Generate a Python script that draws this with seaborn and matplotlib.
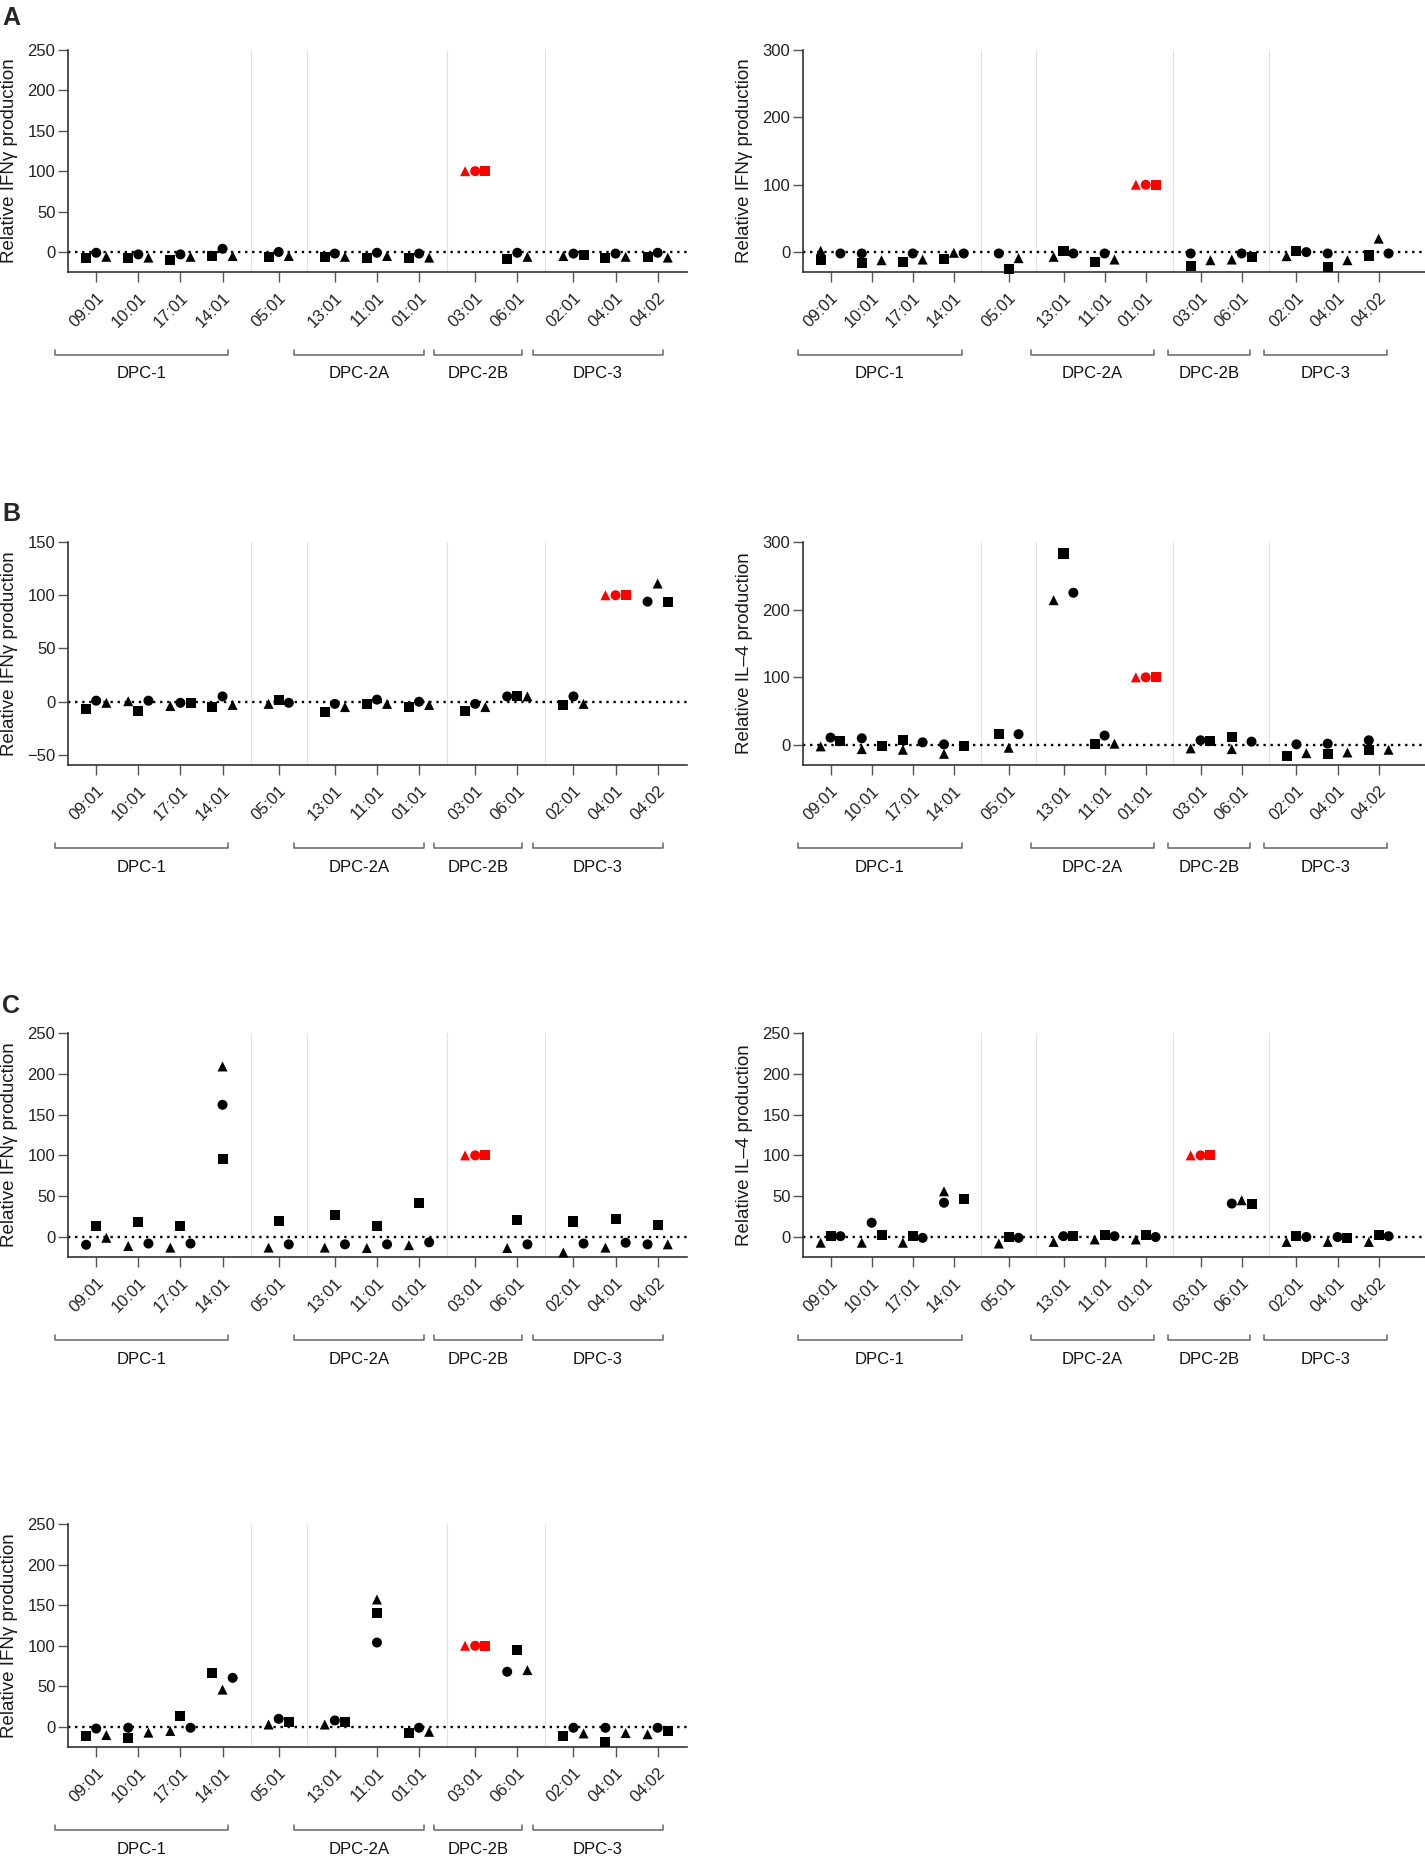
import matplotlib
matplotlib.use("Agg")
import matplotlib.pyplot as plt
import seaborn as sns
import pandas as pd

# HLA-DP alleles on the x axis and the DPC group each belongs to ("" = no group)
alleles = ["09:01", "10:01", "17:01", "14:01", "05:01", "13:01", "11:01",
           "01:01", "03:01", "06:01", "02:01", "04:01", "04:02"]
allele_groups = ["DPC-1", "DPC-1", "DPC-1", "DPC-1", "", "DPC-2A", "DPC-2A",
                 "DPC-2A", "DPC-2B", "DPC-2B", "DPC-3", "DPC-3", "DPC-3"]
donors = ["square", "circle", "triangle"]

# which side each donor's point sits on (square, circle, triangle): L / C / R
# panel A, left
a1_square = [-7, -7, -9.5, -5, -6, -6, -7, -7, 100, -9, -4, -8, -6]
a1_circle = [-1, -3, -3, 4, 0, -2, -1, -2, 100, -1, -2, -2, -1]
a1_triangle = [-6, -7, -6, -5, -5, -6, -5, -7, 100, -6, -5, -6, -7]
a1_spread = ["LCR", "LCR", "LCR", "LCR", "LCR", "LCR", "LCR", "LCR", "RCL",
             "LCR", "RCL", "LCR", "LCR"]

# panel A, right
a2_square = [-12, -16, -15, -10, -25, 1, -14, 100, -20, -7, 1, -22, -5]
a2_circle = [-2, -2, -2, -2, -2, -2, -2, 100, -2, -2, 0, -2, -2]
a2_triangle = [2, -12, -11, -1, -9, -7, -11, 100, -12, -11, -6, -12, 20]
a2_spread = ["LRL", "LLR", "LCR", "LRC", "CLR", "CRL", "LCR", "RCL", "LLR",
             "RCL", "CRL", "LLR", "LRC"]

# panel B, left
b1_square = [-7, -9, -1, -5, 2, -10, -2, -5, -9, 5.5, -3, 100, 94]
b1_circle = [1, 1, -1, 5, -1, -2, 2, 0, -2, 5, 5, 100, 94]
b1_triangle = [-1, 0.5, -4, -3, -2, -5, -2, -3, -5, 5, -2, 100, 111]
b1_spread = ["LCR", "CRL", "RCL", "LCR", "CRL", "LCR", "LCR", "LCR", "LCR",
             "CLR", "LCR", "RCL", "RLC"]

# panel B, right (IL-4)
b2_square = [6, -2, 7, -2, 16, 283, 1, 100, 6, 12, -16, -13, -8]
b2_circle = [11, 10, 4, 1, 16, 225, 14, 100, 7, 5, 1, 2, 7]
b2_triangle = [-2, -6, -7, -13, -4, 214, 2, 100, -5, -6, -12, -11, -7]
b2_spread = ["RCL", "RLL", "LRL", "RLL", "LRC", "CRL", "LCR", "RCL", "RCL",
             "LRL", "LCR", "LLR", "LLR"]

# panel C, left
c1_square = [14, 18, 13.5, 95, 20, 26.5, 13.5, 42, 100, 21, 19, 21.5, 15]
c1_circle = [-9.5, -8, -8, 162, -9, -9, -9, -6.5, 100, -9, -8, -7, -9]
c1_triangle = [-1, -11, -13, 209, -13, -13, -13.5, -10, 100, -13.5, -19, -13, -9]
c1_spread = ["CLR", "CRL", "CRL", "CCC", "CRL", "CRL", "CRL", "CRL", "RCL",
             "CRL", "CRL", "CRL", "CLR"]

# panel C, right (IL-4)
c2_square = [1, 2, 1, 46.5, 0, 1, 3, 3, 100, 41, 1, -1, 2]
c2_circle = [1, 17.5, -1, 42, -1, 1, 1, 0, 100, 41, 0, 0, 1]
c2_triangle = [-7, -7, -7, 56, -8, -6, -3, -3, 100, 45, -6, -6, -6]
c2_spread = ["CRL", "RCL", "CRL", "RLL", "CRL", "RCL", "CRL", "CRL", "RCL",
             "RLC", "CRL", "RCL", "CRL"]

# bottom panel
d_square = [-11.5, -13.5, 13.5, 66, 6, 6, 140, -7.5, 100, 95, -11, -18, -5]
d_circle = [-2, -1, -1, 60.5, 10, 8, 104, -1, 100, 68, -1, -1, -1]
d_triangle = [-10, -7, -5, 46, 3, 3, 157, -6, 100, 70, -8, -7.5, -9]
d_spread = ["LCR", "LLR", "CRL", "LRC", "RCL", "RCL", "CCC", "LCR", "RCL",
            "CLR", "LCR", "LLR", "RCL"]

IFN_LABEL = "Relative IFNγ production"
IL4_LABEL = "Relative IL–4 production"

FIG_W, FIG_H = 1425, 1860
SLOT_SHIFT = {"L": -0.24, "C": 0.0, "R": 0.24}


def allele_positions():
    # one unit per allele, an extra third of a unit between groups
    pos, gap = [], 0
    for i, g in enumerate(allele_groups):
        if i > 0 and g != allele_groups[i - 1]:
            gap += 1
        pos.append(i + gap / 3)
    return pos


def panel_frame(square, circle, triangle, spread, ref):
    base = allele_positions()
    rows = []
    for i, allele in enumerate(alleles):
        for k, (donor, vals) in enumerate(zip(donors, (square, circle, triangle))):
            rows.append({"allele": allele, "donor": donor, "value": vals[i],
                         "x": base[i] + SLOT_SHIFT[spread[i][k]],
                         "ref": allele == ref})
    return pd.DataFrame(rows)


def draw_panel(fig, rect, xmax, bracket_pad, df, ylabel, ylim, yticks):
    ax = fig.add_axes(rect)
    pos = allele_positions()

    # light separators between allele groups
    for i in range(1, len(alleles)):
        if allele_groups[i] != allele_groups[i - 1]:
            ax.axvline((pos[i] + pos[i - 1]) / 2, color="#e2e2e2", lw=0.8, zorder=0)

    ax.axhline(0, color="black", lw=1.7, ls=(0, (1, 2)), zorder=1)

    sns.scatterplot(data=df, x="x", y="value", hue="ref",
                    palette={False: "black", True: "#ff0000"},
                    style="donor",
                    markers={"square": "s", "circle": "o", "triangle": "^"},
                    s=52, linewidth=0, legend=False, ax=ax, zorder=3,
                    clip_on=False)

    ax.set_xlim(-0.67, xmax)
    ax.set_ylim(*ylim)
    ax.set_yticks(yticks)
    ax.set_xticks(pos, alleles, rotation=45, ha="right", va="top",
                  rotation_mode="anchor")
    ax.set_xlabel("")
    ax.set_ylabel(ylabel, fontsize=13.5, color="#1a1a1a")
    ax.yaxis.set_label_coords(-0.08, 0.5)
    ax.tick_params(axis="both", length=7, width=1, color="#555",
                   labelsize=12, labelcolor="#222")
    ax.tick_params(axis="x", pad=6)
    ax.tick_params(axis="y", pad=2)
    sns.despine(ax=ax)
    for side in ("left", "bottom"):
        ax.spines[side].set_color("#333")
        ax.spines[side].set_linewidth(1.2)

    # group brackets under the tick labels
    h_px = rect[3] * FIG_H
    y_br = -83 / h_px
    y_lab = -102 / h_px
    tick_h = 5 / h_px
    trans = ax.get_xaxis_transform()
    for g in dict.fromkeys(allele_groups):
        if not g:
            continue
        xs = [p for p, gg in zip(pos, allele_groups) if gg == g]
        x0, x1 = xs[0] - bracket_pad[0], xs[-1] + bracket_pad[1]
        ax.plot([x0, x0, x1, x1], [y_br + tick_h, y_br, y_br, y_br + tick_h],
                color="#666", lw=1.1, transform=trans, clip_on=False)
        ax.text((x0 + x1) / 2, y_lab, g, transform=trans, ha="center",
                va="center", fontsize=12, color="#111")
    return ax


def main():
    sns.set_theme(style="ticks")
    plt.rcParams["font.family"] = ["Liberation Sans", "DejaVu Sans"]

    fig = plt.figure(figsize=(FIG_W / 100, FIG_H / 100), dpi=100)

    left_x, left_w = 68 / FIG_W, 619 / FIG_W
    right_x, right_w = 803 / FIG_W, 622 / FIG_W
    rows = {"A": (50, 272), "B": (542, 765), "C": (1033, 1257), "D": (1524, 1747)}

    def rect(col, row):
        top, bot = rows[row]
        x, w = (left_x, left_w) if col == 0 else (right_x, right_w)
        return [x, 1 - bot / FIG_H, w, (bot - top) / FIG_H]

    panels = [
        (0, "A", panel_frame(a1_square, a1_circle, a1_triangle, a1_spread, "03:01"),
         IFN_LABEL, (-24.8, 250), range(0, 251, 50)),
        (1, "A", panel_frame(a2_square, a2_circle, a2_triangle, a2_spread, "01:01"),
         IFN_LABEL, (-29.5, 300), range(0, 301, 100)),
        (0, "B", panel_frame(b1_square, b1_circle, b1_triangle, b1_spread, "04:01"),
         IFN_LABEL, (-59.4, 150), range(-50, 151, 50)),
        (1, "B", panel_frame(b2_square, b2_circle, b2_triangle, b2_spread, "01:01"),
         IL4_LABEL, (-29.5, 300), range(0, 301, 100)),
        (0, "C", panel_frame(c1_square, c1_circle, c1_triangle, c1_spread, "03:01"),
         IFN_LABEL, (-24.5, 250), range(0, 251, 50)),
        (1, "C", panel_frame(c2_square, c2_circle, c2_triangle, c2_spread, "03:01"),
         IL4_LABEL, (-24.5, 250), range(0, 251, 50)),
        (0, "D", panel_frame(d_square, d_circle, d_triangle, d_spread, "03:01"),
         IFN_LABEL, (-24.7, 250), range(0, 251, 50)),
    ]
    for col, row, df, ylabel, ylim, yticks in panels:
        if col == 0:
            xmax, pad = 14.03, (0.97, 0.12)
        else:
            xmax, pad = 14.46, (0.8, 0.2)
        draw_panel(fig, rect(col, row), xmax, pad, df, ylabel, ylim, yticks)

    for letter, top in (("A", 6), ("B", 502), ("C", 994)):
        fig.text(2 / FIG_W, 1 - top / FIG_H, letter, fontsize=18,
                 fontweight="bold", va="top", ha="left")

    fig.savefig("out.png", dpi=100)


if __name__ == "__main__":
    main()
